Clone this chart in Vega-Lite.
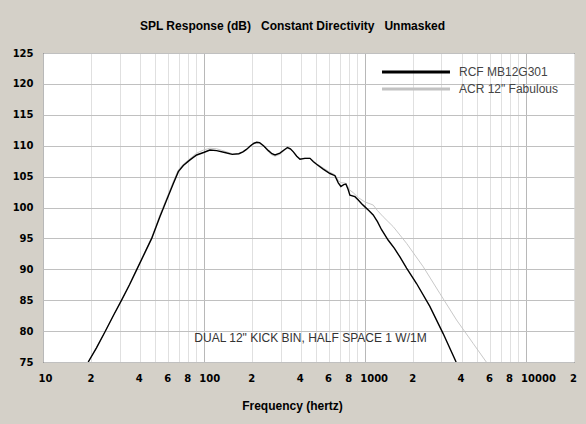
{
  "$schema": "https://vega.github.io/schema/vega-lite/v6.json",
  "width": 531,
  "height": 309,
  "autosize": {"type": "none"},
  "padding": {"left": 43, "top": 53, "right": 12, "bottom": 62},
  "background": "#d4d0c8",
  "title": {
    "text": "SPL Response (dB)\u00a0\u00a0\u00a0Constant Directivity\u00a0\u00a0\u00a0Unmasked",
    "font": "Liberation Sans",
    "fontSize": 12,
    "fontWeight": "bold",
    "color": "black",
    "anchor": "middle",
    "offset": 15,
    "dx": -16
  },
  "config": {
    "view": {"fill": "white", "stroke": "black", "strokeWidth": 1},
    "axis": {
      "domain": false,
      "ticks": false,
      "labelFont": "DejaVu Sans",
      "labelFontWeight": "bold",
      "labelFontSize": 10,
      "labelColor": "black",
      "labelFlush": false,
      "labelOverlap": false,
      "titleFont": "Liberation Sans",
      "titleFontSize": 12,
      "titleFontWeight": "bold",
      "titleColor": "black"
    }
  },
  "datasets": {
    "curves": [
      {"series": "RCF MB12G301", "freq": 19.1, "spl": 75.0},
      {"series": "RCF MB12G301", "freq": 21.5, "spl": 77.3},
      {"series": "RCF MB12G301", "freq": 24.3, "spl": 79.9},
      {"series": "RCF MB12G301", "freq": 27.5, "spl": 82.6},
      {"series": "RCF MB12G301", "freq": 30.8, "spl": 85.0},
      {"series": "RCF MB12G301", "freq": 34.5, "spl": 87.5},
      {"series": "RCF MB12G301", "freq": 38.2, "spl": 89.9},
      {"series": "RCF MB12G301", "freq": 43, "spl": 92.7},
      {"series": "RCF MB12G301", "freq": 47.4, "spl": 95.0},
      {"series": "RCF MB12G301", "freq": 50.5, "spl": 96.9},
      {"series": "RCF MB12G301", "freq": 53.3, "spl": 98.5},
      {"series": "RCF MB12G301", "freq": 58.7, "spl": 101.2},
      {"series": "RCF MB12G301", "freq": 64.6, "spl": 103.9},
      {"series": "RCF MB12G301", "freq": 69.4, "spl": 105.8},
      {"series": "RCF MB12G301", "freq": 74.5, "spl": 106.8},
      {"series": "RCF MB12G301", "freq": 82, "spl": 107.7},
      {"series": "RCF MB12G301", "freq": 90.2, "spl": 108.5},
      {"series": "RCF MB12G301", "freq": 99.6, "spl": 108.9},
      {"series": "RCF MB12G301", "freq": 109, "spl": 109.3},
      {"series": "RCF MB12G301", "freq": 120, "spl": 109.2},
      {"series": "RCF MB12G301", "freq": 135, "spl": 108.9},
      {"series": "RCF MB12G301", "freq": 150, "spl": 108.6},
      {"series": "RCF MB12G301", "freq": 165, "spl": 108.7},
      {"series": "RCF MB12G301", "freq": 175, "spl": 109.0},
      {"series": "RCF MB12G301", "freq": 184, "spl": 109.4},
      {"series": "RCF MB12G301", "freq": 195, "spl": 110.0},
      {"series": "RCF MB12G301", "freq": 205, "spl": 110.4},
      {"series": "RCF MB12G301", "freq": 213, "spl": 110.55},
      {"series": "RCF MB12G301", "freq": 222, "spl": 110.5},
      {"series": "RCF MB12G301", "freq": 235, "spl": 110.0},
      {"series": "RCF MB12G301", "freq": 252, "spl": 109.2},
      {"series": "RCF MB12G301", "freq": 265, "spl": 108.7},
      {"series": "RCF MB12G301", "freq": 277, "spl": 108.5},
      {"series": "RCF MB12G301", "freq": 297, "spl": 108.8},
      {"series": "RCF MB12G301", "freq": 315, "spl": 109.3},
      {"series": "RCF MB12G301", "freq": 331, "spl": 109.7},
      {"series": "RCF MB12G301", "freq": 345, "spl": 109.5},
      {"series": "RCF MB12G301", "freq": 360, "spl": 109.0},
      {"series": "RCF MB12G301", "freq": 378, "spl": 108.3},
      {"series": "RCF MB12G301", "freq": 396, "spl": 107.8},
      {"series": "RCF MB12G301", "freq": 425, "spl": 107.95},
      {"series": "RCF MB12G301", "freq": 457, "spl": 107.95},
      {"series": "RCF MB12G301", "freq": 480, "spl": 107.4},
      {"series": "RCF MB12G301", "freq": 502, "spl": 107.0},
      {"series": "RCF MB12G301", "freq": 552, "spl": 106.2},
      {"series": "RCF MB12G301", "freq": 608, "spl": 105.5},
      {"series": "RCF MB12G301", "freq": 653, "spl": 105.15},
      {"series": "RCF MB12G301", "freq": 685, "spl": 104.0},
      {"series": "RCF MB12G301", "freq": 711, "spl": 103.4},
      {"series": "RCF MB12G301", "freq": 740, "spl": 103.7},
      {"series": "RCF MB12G301", "freq": 764, "spl": 103.8},
      {"series": "RCF MB12G301", "freq": 789, "spl": 102.9},
      {"series": "RCF MB12G301", "freq": 809, "spl": 102.0},
      {"series": "RCF MB12G301", "freq": 869, "spl": 101.75},
      {"series": "RCF MB12G301", "freq": 912, "spl": 101.2},
      {"series": "RCF MB12G301", "freq": 957, "spl": 100.6},
      {"series": "RCF MB12G301", "freq": 1003, "spl": 100.1},
      {"series": "RCF MB12G301", "freq": 1060, "spl": 99.5},
      {"series": "RCF MB12G301", "freq": 1129, "spl": 98.8},
      {"series": "RCF MB12G301", "freq": 1200, "spl": 97.7},
      {"series": "RCF MB12G301", "freq": 1273, "spl": 96.4},
      {"series": "RCF MB12G301", "freq": 1401, "spl": 94.7},
      {"series": "RCF MB12G301", "freq": 1530, "spl": 93.4},
      {"series": "RCF MB12G301", "freq": 1655, "spl": 92.0},
      {"series": "RCF MB12G301", "freq": 1821, "spl": 90.2},
      {"series": "RCF MB12G301", "freq": 2100, "spl": 87.7},
      {"series": "RCF MB12G301", "freq": 2540, "spl": 84.0},
      {"series": "RCF MB12G301", "freq": 3073, "spl": 79.6},
      {"series": "RCF MB12G301", "freq": 3700, "spl": 75.0},
      {"series": "ACR 12\" Fabulous", "freq": 19.1, "spl": 75.0},
      {"series": "ACR 12\" Fabulous", "freq": 21.5, "spl": 77.3},
      {"series": "ACR 12\" Fabulous", "freq": 24.3, "spl": 79.9},
      {"series": "ACR 12\" Fabulous", "freq": 27.5, "spl": 82.6},
      {"series": "ACR 12\" Fabulous", "freq": 30.8, "spl": 85.0},
      {"series": "ACR 12\" Fabulous", "freq": 34.5, "spl": 87.6},
      {"series": "ACR 12\" Fabulous", "freq": 38.2, "spl": 90.0},
      {"series": "ACR 12\" Fabulous", "freq": 43, "spl": 92.8},
      {"series": "ACR 12\" Fabulous", "freq": 47.4, "spl": 95.2},
      {"series": "ACR 12\" Fabulous", "freq": 50.5, "spl": 97.1},
      {"series": "ACR 12\" Fabulous", "freq": 53.3, "spl": 98.8},
      {"series": "ACR 12\" Fabulous", "freq": 58.7, "spl": 101.5},
      {"series": "ACR 12\" Fabulous", "freq": 64.6, "spl": 104.2},
      {"series": "ACR 12\" Fabulous", "freq": 69.4, "spl": 106.1},
      {"series": "ACR 12\" Fabulous", "freq": 74.5, "spl": 107.0},
      {"series": "ACR 12\" Fabulous", "freq": 82, "spl": 107.9},
      {"series": "ACR 12\" Fabulous", "freq": 90.2, "spl": 108.8},
      {"series": "ACR 12\" Fabulous", "freq": 99.6, "spl": 109.3},
      {"series": "ACR 12\" Fabulous", "freq": 109, "spl": 109.6},
      {"series": "ACR 12\" Fabulous", "freq": 120, "spl": 109.5},
      {"series": "ACR 12\" Fabulous", "freq": 135, "spl": 109.1},
      {"series": "ACR 12\" Fabulous", "freq": 150, "spl": 108.7},
      {"series": "ACR 12\" Fabulous", "freq": 165, "spl": 108.7},
      {"series": "ACR 12\" Fabulous", "freq": 175, "spl": 109.0},
      {"series": "ACR 12\" Fabulous", "freq": 184, "spl": 109.4},
      {"series": "ACR 12\" Fabulous", "freq": 195, "spl": 110.0},
      {"series": "ACR 12\" Fabulous", "freq": 205, "spl": 110.3},
      {"series": "ACR 12\" Fabulous", "freq": 213, "spl": 110.45},
      {"series": "ACR 12\" Fabulous", "freq": 222, "spl": 110.4},
      {"series": "ACR 12\" Fabulous", "freq": 235, "spl": 109.9},
      {"series": "ACR 12\" Fabulous", "freq": 252, "spl": 109.0},
      {"series": "ACR 12\" Fabulous", "freq": 265, "spl": 108.5},
      {"series": "ACR 12\" Fabulous", "freq": 277, "spl": 108.3},
      {"series": "ACR 12\" Fabulous", "freq": 297, "spl": 108.6},
      {"series": "ACR 12\" Fabulous", "freq": 315, "spl": 109.2},
      {"series": "ACR 12\" Fabulous", "freq": 331, "spl": 109.6},
      {"series": "ACR 12\" Fabulous", "freq": 345, "spl": 109.4},
      {"series": "ACR 12\" Fabulous", "freq": 360, "spl": 109.0},
      {"series": "ACR 12\" Fabulous", "freq": 378, "spl": 108.3},
      {"series": "ACR 12\" Fabulous", "freq": 396, "spl": 107.9},
      {"series": "ACR 12\" Fabulous", "freq": 425, "spl": 108.0},
      {"series": "ACR 12\" Fabulous", "freq": 457, "spl": 108.0},
      {"series": "ACR 12\" Fabulous", "freq": 480, "spl": 107.5},
      {"series": "ACR 12\" Fabulous", "freq": 502, "spl": 107.1},
      {"series": "ACR 12\" Fabulous", "freq": 552, "spl": 106.4},
      {"series": "ACR 12\" Fabulous", "freq": 608, "spl": 105.7},
      {"series": "ACR 12\" Fabulous", "freq": 653, "spl": 105.3},
      {"series": "ACR 12\" Fabulous", "freq": 685, "spl": 104.4},
      {"series": "ACR 12\" Fabulous", "freq": 711, "spl": 104.0},
      {"series": "ACR 12\" Fabulous", "freq": 740, "spl": 104.0},
      {"series": "ACR 12\" Fabulous", "freq": 764, "spl": 103.9},
      {"series": "ACR 12\" Fabulous", "freq": 789, "spl": 103.3},
      {"series": "ACR 12\" Fabulous", "freq": 809, "spl": 102.8},
      {"series": "ACR 12\" Fabulous", "freq": 848, "spl": 102.4},
      {"series": "ACR 12\" Fabulous", "freq": 912, "spl": 101.6},
      {"series": "ACR 12\" Fabulous", "freq": 1003, "spl": 100.9},
      {"series": "ACR 12\" Fabulous", "freq": 1129, "spl": 100.4},
      {"series": "ACR 12\" Fabulous", "freq": 1200, "spl": 99.5},
      {"series": "ACR 12\" Fabulous", "freq": 1303, "spl": 98.5},
      {"series": "ACR 12\" Fabulous", "freq": 1504, "spl": 96.9},
      {"series": "ACR 12\" Fabulous", "freq": 1821, "spl": 94.2},
      {"series": "ACR 12\" Fabulous", "freq": 2312, "spl": 90.4},
      {"series": "ACR 12\" Fabulous", "freq": 2930, "spl": 86.1},
      {"series": "ACR 12\" Fabulous", "freq": 3722, "spl": 81.8},
      {"series": "ACR 12\" Fabulous", "freq": 4722, "spl": 78.0},
      {"series": "ACR 12\" Fabulous", "freq": 5700, "spl": 75.0}
    ]
  },
  "layer": [
    {
      "data": {"name": "curves"},
      "encoding": {
        "x": {
          "field": "freq",
          "type": "quantitative",
          "scale": {"type": "log", "domain": [10, 20000], "nice": false},
          "axis": {
            "title": "Frequency (hertz)",
            "titleX": 249,
            "titleY": 43,
            "titleAlign": "center",
            "titleBaseline": "middle",
            "values": [10, 20, 30, 40, 50, 60, 70, 80, 90, 100, 200, 300, 400, 500, 600, 700, 800, 900, 1000, 2000, 3000, 4000, 5000, 6000, 7000, 8000, 9000, 10000, 20000],
            "format": "d",
            "labelExpr": "indexof([30, 50, 70, 90, 300, 500, 700, 900, 3000, 5000, 7000, 9000], datum.value) >= 0 ? '' : (indexof([10, 100, 1000, 10000], datum.value) >= 0 ? datum.label : substring(datum.label, 0, 1))",
            "labelAlign": {
              "condition": {"test": "indexof([10, 100, 1000, 10000], datum.value) >= 0", "value": "left"},
              "value": "center"
            },
            "labelOffset": {
              "condition": {"test": "indexof([10, 100, 1000, 10000], datum.value) >= 0", "value": -5},
              "value": -1
            },
            "labelPadding": 11,
            "gridColor": {
              "condition": {"test": "indexof([10, 100, 1000, 10000], datum.value) >= 0", "value": "#b8b8b8"},
              "value": "#e0e0e0"
            }
          }
        },
        "y": {
          "field": "spl",
          "type": "quantitative",
          "scale": {"domain": [75, 125], "nice": false, "zero": false},
          "axis": {
            "title": null,
            "values": [75, 80, 85, 90, 95, 100, 105, 110, 115, 120, 125],
            "labelPadding": 10,
            "gridColor": "#c0c0c0"
          }
        },
        "color": {
          "field": "series",
          "type": "nominal",
          "scale": {"domain": ["RCF MB12G301", "ACR 12\" Fabulous"], "range": ["#000000", "#c2c2c2"]},
          "legend": {
            "title": null,
            "orient": "none",
            "legendX": 367,
            "legendY": 13,
            "symbolType": "M-10,0H10",
            "symbolSize": 46.2,
            "symbolStrokeWidth": 3,
            "labelFont": "Liberation Sans",
            "labelFontSize": 12,
            "labelColor": "#444444",
            "labelOffset": 37,
            "rowPadding": 5,
            "padding": 0
          }
        }
      },
      "layer": [
        {
          "transform": [{"filter": "datum.series === 'ACR 12\" Fabulous'"}],
          "mark": {"type": "line", "strokeWidth": 0.9, "clip": true}
        },
        {
          "transform": [{"filter": "datum.series === 'RCF MB12G301'"}],
          "mark": {"type": "line", "strokeWidth": 1.4, "clip": true}
        }
      ]
    },
    {
      "data": {"values": [{"note": "DUAL 12\" KICK BIN, HALF SPACE 1 W/1M"}]},
      "mark": {"type": "text", "font": "Liberation Sans", "fontSize": 12, "color": "#333333", "align": "center", "baseline": "middle"},
      "encoding": {
        "x": {
          "datum": 460,
          "type": "quantitative",
          "scale": {"type": "log", "domain": [10, 20000], "nice": false},
          "axis": {
            "title": "Frequency (hertz)",
            "titleX": 249,
            "titleY": 43,
            "titleAlign": "center",
            "titleBaseline": "middle",
            "values": [10, 20, 30, 40, 50, 60, 70, 80, 90, 100, 200, 300, 400, 500, 600, 700, 800, 900, 1000, 2000, 3000, 4000, 5000, 6000, 7000, 8000, 9000, 10000, 20000],
            "format": "d",
            "labelExpr": "indexof([30, 50, 70, 90, 300, 500, 700, 900, 3000, 5000, 7000, 9000], datum.value) >= 0 ? '' : (indexof([10, 100, 1000, 10000], datum.value) >= 0 ? datum.label : substring(datum.label, 0, 1))",
            "labelAlign": {
              "condition": {"test": "indexof([10, 100, 1000, 10000], datum.value) >= 0", "value": "left"},
              "value": "center"
            },
            "labelOffset": {
              "condition": {"test": "indexof([10, 100, 1000, 10000], datum.value) >= 0", "value": -5},
              "value": -1
            },
            "labelPadding": 11,
            "gridColor": {
              "condition": {"test": "indexof([10, 100, 1000, 10000], datum.value) >= 0", "value": "#b8b8b8"},
              "value": "#e0e0e0"
            }
          }
        },
        "y": {
          "datum": 78.9,
          "type": "quantitative",
          "scale": {"domain": [75, 125], "nice": false, "zero": false},
          "axis": {
            "title": null,
            "values": [75, 80, 85, 90, 95, 100, 105, 110, 115, 120, 125],
            "labelPadding": 10,
            "gridColor": "#c0c0c0"
          }
        },
        "text": {"field": "note", "type": "nominal"}
      }
    }
  ]
}
